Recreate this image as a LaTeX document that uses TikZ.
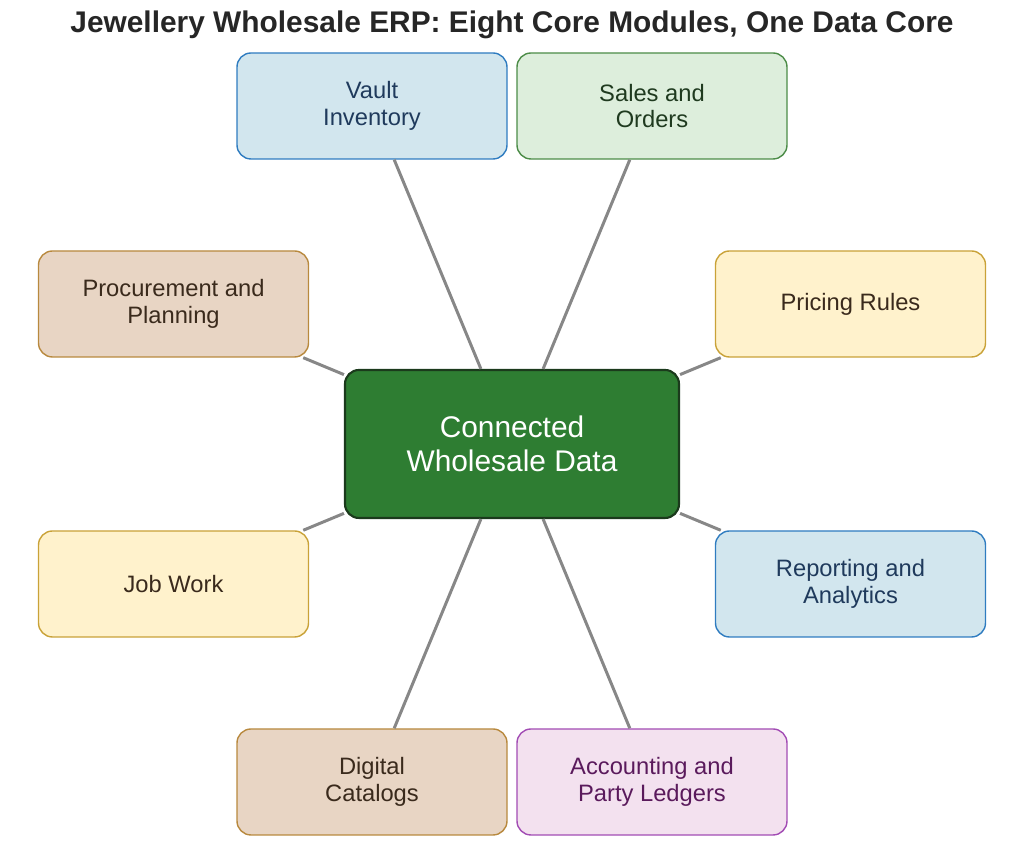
\documentclass[tikz,border=0pt]{standalone}
\usepackage{fontspec}
\setmainfont{Liberation Sans}
\usepackage{tikz}
\definecolor{blueFill}{HTML}{D2E6EE}
\definecolor{blueLine}{HTML}{2F7CC0}
\definecolor{blueText}{HTML}{1F3A5C}
\definecolor{greenFill}{HTML}{DDEEDC}
\definecolor{greenLine}{HTML}{4C8C48}
\definecolor{greenText}{HTML}{1F3A1F}
\definecolor{tanFill}{HTML}{E8D5C4}
\definecolor{tanLine}{HTML}{B8893E}
\definecolor{tanText}{HTML}{3A2A1C}
\definecolor{yellowFill}{HTML}{FFF2CC}
\definecolor{yellowLine}{HTML}{C9A238}
\definecolor{pinkFill}{HTML}{F3E1EF}
\definecolor{pinkLine}{HTML}{A24CB4}
\definecolor{pinkText}{HTML}{5A1A5C}
\definecolor{coreFill}{HTML}{2E7D32}
\definecolor{coreLine}{HTML}{1B3A1C}
\tikzset{module/.style={draw, rounded corners=0.28cm, line width=0.8pt, minimum width=5.4cm, minimum height=2.12cm, align=center, font=\fontsize{13.5}{15}\selectfont}}
\tikzset{blue mod/.style={module, fill=blueFill, draw=blueLine, text=blueText}}
\tikzset{green mod/.style={module, fill=greenFill, draw=greenLine, text=greenText}}
\tikzset{tan mod/.style={module, fill=tanFill, draw=tanLine, text=tanText}}
\tikzset{yellow mod/.style={module, fill=yellowFill, draw=yellowLine, text=tanText}}
\tikzset{pink mod/.style={module, fill=pinkFill, draw=pinkLine, text=pinkText}}
\tikzset{spoke/.style={draw=black!47, line width=1.7pt}}
\begin{document}
\begin{tikzpicture}
  \useasboundingbox (0, 0) rectangle (20.48, 16.84);
  \node[font=\bfseries\fontsize{17}{20}\selectfont, text=black!85] at (10.24, 16.34) (title) {Jewellery Wholesale ERP: Eight Core Modules, One Data Core};

  \node[draw=coreLine, fill=coreFill, text=white, line width=1.2pt, rounded corners=0.28cm, minimum width=6.68cm, minimum height=2.96cm, align=center, font=\fontsize{17}{19}\selectfont] at (10.24, 7.96) (core) {Connected\\Wholesale Data};

  \node[blue mod] at (7.44, 14.72) (vault) {Vault\\Inventory};
  \node[green mod] at (13.04, 14.72) (sales) {Sales and\\Orders};
  \node[tan mod] at (3.47, 10.76) (procure) {Procurement and\\Planning};
  \node[yellow mod] at (17.01, 10.76) (pricing) {Pricing Rules};
  \node[yellow mod] at (3.47, 5.16) (jobwork) {Job Work};
  \node[blue mod] at (17.01, 5.16) (report) {Reporting and\\Analytics};
  \node[tan mod] at (7.44, 1.20) (catalog) {Digital\\Catalogs};
  \node[pink mod] at (13.04, 1.20) (ledger) {Accounting and\\Party Ledgers};

  % spokes from the data core
  \foreach \m in {vault, sales, procure, pricing, jobwork, report, catalog, ledger}
    \draw[spoke] (core) -- (\m);
\end{tikzpicture}
\end{document}
